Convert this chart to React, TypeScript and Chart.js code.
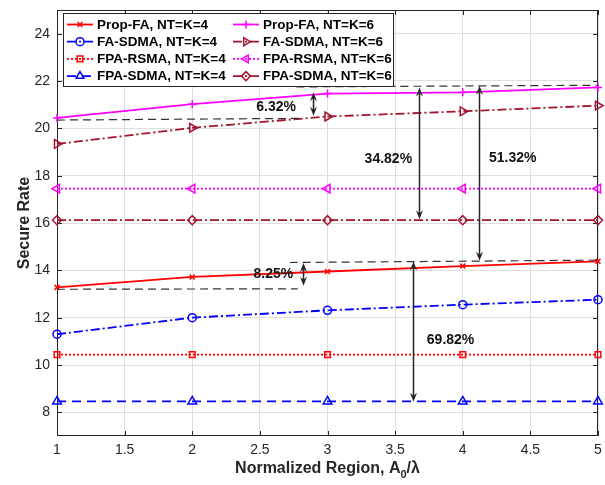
import React, { useEffect, useRef } from 'react';
import { Chart, registerables } from 'chart.js';

Chart.register(...registerables);

// ---------- data ----------
const xValues = [1, 2, 3, 4, 5];
const propFA4 = [13.28, 13.72, 13.95, 14.18, 14.38];
const faSDMA4 = [11.3, 12.0, 12.31, 12.55, 12.76];
const fpaRSMA4 = [10.44, 10.44, 10.44, 10.44, 10.44];
const fpaSDMA4 = [8.46, 8.46, 8.46, 8.46, 8.46];
const propFA6 = [20.44, 21.02, 21.47, 21.52, 21.73];
const faSDMA6 = [19.34, 20.02, 20.5, 20.72, 20.96];
const fpaRSMA6 = [17.45, 17.45, 17.45, 17.45, 17.45];
const fpaSDMA6 = [16.12, 16.12, 16.12, 16.12, 16.12];

const xTicks = [1, 1.5, 2, 2.5, 3, 3.5, 4, 4.5, 5];
const yTicks = [8, 10, 12, 14, 16, 18, 20, 22, 24];

const seriesLabels = [
  'Prop-FA, NT=K=4',
  'FA-SDMA, NT=K=4',
  'FPA-RSMA, NT=K=4',
  'FPA-SDMA, NT=K=4',
  'Prop-FA, NT=K=6',
  'FA-SDMA, NT=K=6',
  'FPA-RSMA, NT=K=6',
  'FPA-SDMA, NT=K=6',
];
const seriesData = [propFA4, faSDMA4, fpaRSMA4, fpaSDMA4, propFA6, faSDMA6, fpaRSMA6, fpaSDMA6];

// annotation data (data coordinates)
const dashLines = [
  [1, 20.35, 2.8, 20.42],
  [2.77, 21.75, 5, 21.82],
  [1, 13.2, 2.78, 13.22],
  [2.72, 14.33, 5, 14.43],
];
const arrowX = [2.89, 3.68, 4.12, 3.63, 2.82];
const arrowLow = [20.53, 16.16, 14.4, 8.45, 13.35];
const arrowHigh = [21.52, 21.73, 21.8, 14.37, 14.31];
const noteText = ['6.32%', '34.82%', '51.32%', '69.82%', '8.25%'];
const noteX = [2.62, 3.45, 4.37, 3.91, 2.6];
const noteY = [20.89, 18.7, 18.75, 11.03, 13.82];

// ---------- styles ----------
const RED = '#FF0000';
const BLUE = '#0000FF';
const MAG = '#FF00FF';
const BROWN = '#A2142F';
const styles = [
  { color: RED, dash: [], point: 'crossRot', r: 3.5, rot: 0 },
  { color: BLUE, dash: [9, 3, 2, 3], point: 'circle', r: 4, rot: 0 },
  { color: RED, dash: [2, 2], point: 'rect', r: 4, rot: 0 },
  { color: BLUE, dash: [9, 6], point: 'triangle', r: 5, rot: 0 },
  { color: MAG, dash: [], point: 'cross', r: 4, rot: 0 },
  { color: BROWN, dash: [9, 3, 2, 3], point: 'triangle', r: 5, rot: 90 },
  { color: MAG, dash: [2, 2], point: 'triangle', r: 5, rot: 270 },
  { color: BROWN, dash: [9, 3, 2, 3], point: 'rectRot', r: 4.5, rot: 0 },
];

const FONT = '"Liberation Sans", Arial, Helvetica, sans-serif';
const AXIS = '#262626';

function drawMarker(ctx: CanvasRenderingContext2D, kind: string, x: number, y: number, r: number, rotDeg: number, color: string) {
  ctx.save();
  ctx.setLineDash([]);
  ctx.strokeStyle = color;
  ctx.lineWidth = 1.5;
  ctx.beginPath();
  let rad = (rotDeg * Math.PI) / 180;
  if (kind === 'circle') {
    ctx.arc(x, y, r, 0, Math.PI * 2);
  } else if (kind === 'rect') {
    const s = Math.SQRT1_2 * r;
    ctx.rect(x - s, y - s, 2 * s, 2 * s);
  } else if (kind === 'rectRot') {
    ctx.moveTo(x - r, y);
    ctx.lineTo(x, y - r);
    ctx.lineTo(x + r, y);
    ctx.lineTo(x, y + r);
    ctx.closePath();
  } else if (kind === 'triangle') {
    ctx.moveTo(x + Math.sin(rad) * r, y - Math.cos(rad) * r);
    rad += (2 * Math.PI) / 3;
    ctx.lineTo(x + Math.sin(rad) * r, y - Math.cos(rad) * r);
    rad += (2 * Math.PI) / 3;
    ctx.lineTo(x + Math.sin(rad) * r, y - Math.cos(rad) * r);
    ctx.closePath();
  } else if (kind === 'cross') {
    ctx.moveTo(x, y - r);
    ctx.lineTo(x, y + r);
    ctx.moveTo(x - r, y);
    ctx.lineTo(x + r, y);
  } else if (kind === 'crossRot') {
    const d = r * Math.SQRT1_2;
    ctx.moveTo(x - d, y - d);
    ctx.lineTo(x + d, y + d);
    ctx.moveTo(x + d, y - d);
    ctx.lineTo(x - d, y + d);
  }
  ctx.stroke();
  ctx.restore();
}

function arrowHead(ctx: CanvasRenderingContext2D, x: number, tipY: number, up: boolean) {
  const s = up ? 1 : -1;
  ctx.beginPath();
  ctx.moveTo(x, tipY);
  ctx.lineTo(x - 3.5, tipY + 9 * s);
  ctx.lineTo(x, tipY + 6 * s);
  ctx.lineTo(x + 3.5, tipY + 9 * s);
  ctx.closePath();
  ctx.fill();
}

const boxPlugin = {
  id: 'boxPlugin',
  beforeDatasetsDraw(chart: any) {
    const { ctx, chartArea: a, scales } = chart;
    const xs = scales.x;
    const ys = scales.y;
    ctx.save();
    ctx.strokeStyle = AXIS;
    ctx.lineWidth = 1;
    ctx.setLineDash([]);
    ctx.strokeRect(a.left + 0.5, a.top + 0.5, a.right - a.left - 1, a.bottom - a.top - 1);
    ctx.beginPath();
    const tl = 5;
    xTicks.forEach((v) => {
      const px = Math.round(xs.getPixelForValue(v)) + 0.5;
      ctx.moveTo(px, a.bottom);
      ctx.lineTo(px, a.bottom - tl);
      ctx.moveTo(px, a.top);
      ctx.lineTo(px, a.top + tl);
    });
    yTicks.forEach((v) => {
      const py = Math.round(ys.getPixelForValue(v)) + 0.5;
      ctx.moveTo(a.left, py);
      ctx.lineTo(a.left + tl, py);
      ctx.moveTo(a.right, py);
      ctx.lineTo(a.right - tl, py);
    });
    ctx.stroke();
    ctx.restore();
  },
  afterDraw(chart: any) {
    const { ctx, chartArea: a, scales } = chart;
    const xs = scales.x;
    const ys = scales.y;
    const X = (v: number) => xs.getPixelForValue(v);
    const Y = (v: number) => ys.getPixelForValue(v);
    ctx.save();

    // dashed helper lines
    ctx.strokeStyle = '#333333';
    ctx.lineWidth = 1.2;
    ctx.setLineDash([8, 5]);
    dashLines.forEach((l) => {
      ctx.beginPath();
      ctx.moveTo(X(l[0]), Y(l[1]));
      ctx.lineTo(X(l[2]), Y(l[3]));
      ctx.stroke();
    });
    ctx.setLineDash([]);

    // arrows
    ctx.strokeStyle = AXIS;
    ctx.fillStyle = AXIS;
    ctx.lineWidth = 1.5;
    arrowX.forEach((ax, i) => {
      const px = Math.round(X(ax)) + 0.5;
      const top = Y(arrowHigh[i]);
      const bot = Y(arrowLow[i]);
      ctx.beginPath();
      ctx.moveTo(px, top + 5);
      ctx.lineTo(px, bot - 5);
      ctx.stroke();
      arrowHead(ctx, px, top, true);
      arrowHead(ctx, px, bot, false);
    });

    // notes
    ctx.fillStyle = '#111111';
    ctx.font = `bold 14px ${FONT}`;
    ctx.textAlign = 'center';
    ctx.textBaseline = 'middle';
    noteText.forEach((t, i) => {
      ctx.fillText(t, X(noteX[i]), Y(noteY[i]));
    });

    // legend
    const lx = 63.5, ly = 13.5, lw = 330, lh = 73;
    ctx.fillStyle = '#ffffff';
    ctx.fillRect(lx, ly, lw, lh);
    ctx.strokeStyle = AXIS;
    ctx.lineWidth = 1;
    ctx.strokeRect(lx, ly, lw, lh);
    const colX = [67, 233];
    const rowY0 = 24.5, rowStep = 17.2;
    seriesLabels.forEach((lab, i) => {
      const col = i < 4 ? 0 : 1;
      const row = i % 4;
      const st = styles[i];
      const x0 = colX[col];
      const yy = rowY0 + row * rowStep;
      ctx.save();
      ctx.strokeStyle = st.color;
      ctx.lineWidth = 1.8;
      ctx.setLineDash(st.dash);
      ctx.beginPath();
      ctx.moveTo(x0, yy);
      ctx.lineTo(x0 + 26, yy);
      ctx.stroke();
      ctx.restore();
      drawMarker(ctx, st.point, x0 + 13, yy, Math.min(st.r, 4.5), st.rot, st.color);
      ctx.fillStyle = '#000000';
      ctx.font = `bold 13.5px ${FONT}`;
      ctx.textAlign = 'left';
      ctx.textBaseline = 'middle';
      ctx.fillText(lab, x0 + 30, yy + 0.5);
    });

    // axis titles
    ctx.fillStyle = AXIS;
    ctx.textBaseline = 'middle';
    ctx.save();
    ctx.translate(25, (a.top + a.bottom) / 2);
    ctx.rotate(-Math.PI / 2);
    ctx.textAlign = 'center';
    ctx.font = `bold 16px ${FONT}`;
    ctx.fillText('Secure Rate', 0, 0);
    ctx.restore();

    const part1 = 'Normalized Region, A';
    const sub = '0';
    const part2 = '/\u03BB';
    ctx.font = `bold 16px ${FONT}`;
    const w1 = ctx.measureText(part1).width;
    const w3 = ctx.measureText(part2).width;
    ctx.font = `bold 11px ${FONT}`;
    const w2 = ctx.measureText(sub).width;
    const total = w1 + w2 + w3;
    const cx = (a.left + a.right) / 2;
    let sx = cx - total / 2;
    const ty = 469;
    ctx.textAlign = 'left';
    ctx.font = `bold 16px ${FONT}`;
    ctx.fillText(part1, sx, ty);
    sx += w1;
    ctx.font = `bold 11px ${FONT}`;
    ctx.fillText(sub, sx, ty + 6);
    sx += w2;
    ctx.font = `bold 16px ${FONT}`;
    ctx.fillText(part2, sx, ty);

    ctx.restore();
  },
};

export default function App() {
  const ref = useRef<HTMLCanvasElement | null>(null);
  useEffect(() => {
    if (!ref.current) return;
    const datasets = seriesData.map((arr, i) => {
      const st = styles[i];
      return {
        label: seriesLabels[i],
        data: xValues.map((x, j) => ({ x, y: arr[j] })),
        borderColor: st.color,
        backgroundColor: st.color,
        borderWidth: 1.8,
        borderDash: st.dash,
        pointStyle: st.point,
        pointRadius: st.r,
        pointRotation: st.rot,
        pointBorderWidth: 1.5,
        pointBorderColor: st.color,
        pointBackgroundColor: 'rgba(0,0,0,0)',
        tension: 0,
        fill: false,
        clip: false,
      };
    });
    const chart = new Chart(ref.current, {
      type: 'line',
      data: { datasets } as any,
      options: {
        animation: false,
        responsive: false,
        devicePixelRatio: 1,
        layout: { padding: { top: 10, right: 7, left: 0, bottom: 0 } },
        plugins: { legend: { display: false }, tooltip: { enabled: false } },
        scales: {
          x: {
            type: 'linear',
            min: 1,
            max: 5,
            afterBuildTicks: (s: any) => {
              s.ticks = xTicks.map((v) => ({ value: v }));
            },
            afterFit: (s: any) => {
              s.height = 49;
              s.paddingLeft = 0;
              s.paddingRight = 0;
            },
            ticks: {
              callback: (v: any) => String(+Number(v).toFixed(2)),
              color: AXIS,
              font: { family: FONT, size: 14 },
              padding: 6,
              maxRotation: 0,
              autoSkip: false,
            },
            grid: { color: '#dedede', lineWidth: 1, drawTicks: false },
            border: { display: false },
          },
          y: {
            type: 'linear',
            min: 7,
            max: 25,
            afterBuildTicks: (s: any) => {
              s.ticks = yTicks.map((v) => ({ value: v }));
            },
            afterFit: (s: any) => {
              s.width = 57;
              s.paddingTop = 0;
              s.paddingBottom = 0;
            },
            ticks: {
              callback: (v: any) => String(v),
              color: AXIS,
              font: { family: FONT, size: 14 },
              padding: 7,
              autoSkip: false,
            },
            grid: { color: '#dedede', lineWidth: 1, drawTicks: false },
            border: { display: false },
          },
        },
      } as any,
      plugins: [boxPlugin as any],
    });
    return () => chart.destroy();
  }, []);
  return (
    <div style={{ position: 'absolute', left: 0, top: 0, width: 605, height: 485, background: '#fff' }}>
      <canvas ref={ref} width={605} height={485} style={{ display: 'block' }} />
    </div>
  );
}
